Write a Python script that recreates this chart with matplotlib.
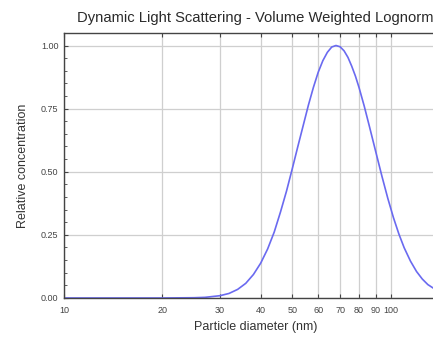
import matplotlib
matplotlib.use("Agg")
import matplotlib.pyplot as plt
from matplotlib.ticker import FixedLocator, NullLocator, MultipleLocator

plt.rcParams['font.family'] = ['Liberation Sans', 'DejaVu Sans']

# values
diameter = [10, 15, 20, 25, 27, 30, 32, 34, 36, 38, 40, 42, 44, 46, 48, 50, 52, 54,
            56, 58, 60, 62, 64, 66, 68, 70, 72, 74, 76, 78, 80, 83, 86, 90, 94, 98,
            102, 106, 110, 115, 120, 125, 130, 140, 150]
concentration = [0.0, 0.0, 0.0, 0.001, 0.0025, 0.009, 0.018, 0.034, 0.058, 0.093,
                 0.138, 0.194, 0.261, 0.341, 0.424, 0.513, 0.601, 0.684, 0.764,
                 0.834, 0.894, 0.940, 0.973, 0.994, 1.000, 0.995, 0.979, 0.953,
                 0.918, 0.879, 0.834, 0.760, 0.682, 0.580, 0.483, 0.395, 0.318,
                 0.253, 0.199, 0.146, 0.105, 0.075, 0.053, 0.026, 0.013]

xticks = [10, 20, 30, 40, 50, 60, 70, 80, 90, 100]
yticks = [0.0, 0.25, 0.5, 0.75, 1.0]

fig = plt.figure(figsize=(4.33, 3.39), dpi=100)
ax = fig.add_axes([0.148, 0.121, 0.887, 0.782])

ax.plot(diameter, concentration, color='#6a6af0', lw=1.2)

ax.set_xscale('log')
ax.set_xlim(10, 150)
ax.set_ylim(0, 1.05)
ax.xaxis.set_major_locator(FixedLocator(xticks))
ax.xaxis.set_minor_locator(NullLocator())
ax.set_xticklabels([str(t) for t in xticks])
ax.yaxis.set_major_locator(FixedLocator(yticks))
ax.yaxis.set_minor_locator(MultipleLocator(0.05))
ax.set_yticklabels(['%.2f' % t for t in yticks])

ax.grid(True, which='major', color='#cfcfcf', lw=0.9)
ax.tick_params(which='both', direction='in', top=True, right=True,
               labelsize=6.5, colors='#444444')
ax.tick_params(axis='x', pad=6)
ax.tick_params(axis='y', pad=4)
ax.tick_params(which='major', length=3)
ax.tick_params(which='minor', length=2)
for s in ax.spines.values():
    s.set_color('#444444')
    s.set_linewidth(1.0)

# title is cut off at the right edge, as in the reference
fig.text(77 / 433, 1 - 18 / 339,
         'Dynamic Light Scattering - Volume Weighted Lognormal Distribution',
         fontsize=10.6, color='#2a2a2a', ha='left', va='center')
ax.set_xlabel('Particle diameter (nm)', fontsize=9, color='#333333', labelpad=4)
ax.set_ylabel('Relative concentration', fontsize=9, color='#333333', labelpad=9)

fig.savefig('out.png', dpi=100)
